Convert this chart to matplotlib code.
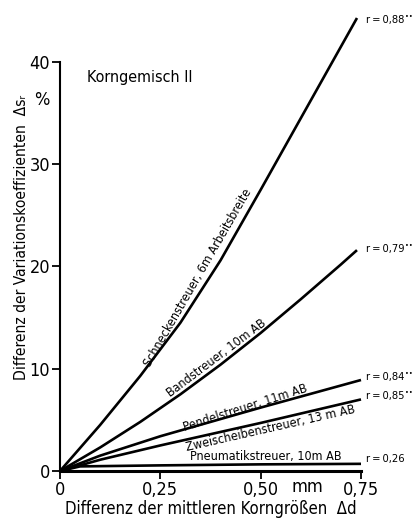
import matplotlib
matplotlib.use("Agg")
import matplotlib.pyplot as plt

# Korngemisch II - Differenz der Variationskoeffizienten ueber Differenz der Korngroessen
schnecken_d = [0, 0.10, 0.20, 0.30, 0.40, 0.50, 0.60, 0.74]
schnecken_s = [0, 4.5, 9.3, 14.5, 20.6, 27.5, 34.5, 44.3]

band_d = [0, 0.10, 0.20, 0.30, 0.40, 0.50, 0.60, 0.70, 0.74]
band_s = [0, 2.3, 4.8, 7.5, 10.4, 13.5, 16.8, 20.2, 21.6]

pendel_d = [0, 0.10, 0.25, 0.50, 0.75]
pendel_s = [0, 1.5, 3.4, 6.2, 8.9]

zweisch_d = [0, 0.10, 0.25, 0.50, 0.75]
zweisch_s = [0, 1.1, 2.5, 4.7, 7.0]

pneu_d = [0, 0.05, 0.25, 0.50, 0.75]
pneu_s = [0, 0.45, 0.55, 0.65, 0.7]

r_labels = ["r\u2009=\u20090,88", "r\u2009=\u20090,79", "r\u2009=\u20090,84",
            "r\u2009=\u20090,85", "r\u2009=\u20090,26"]
r_signif = ["••", "••", "••", "••", ""]

xticks = [0, 0.25, 0.50, 0.75]
xtick_labels = ["0", "0,25", "0,50", "0,75"]
yticks = [0, 10, 20, 30, 40]

plt.rcParams['font.family'] = ['DejaVu Sans']
plt.rcParams['font.stretch'] = 'condensed'

fig = plt.figure(figsize=(4.14, 5.18), dpi=100)
ax = fig.add_axes([60 / 414, 47 / 518, 301 / 414, 453 / 518])

lw = 1.9
for d, s in [(schnecken_d, schnecken_s), (band_d, band_s), (pendel_d, pendel_s),
             (zweisch_d, zweisch_s), (pneu_d, pneu_s)]:
    ax.plot(d, s, color='black', lw=lw, clip_on=False, solid_capstyle='butt',
            solid_joinstyle='round')

ax.set_xlim(0, 0.75)
ax.set_ylim(0, 44.3)
for side in ['top', 'right']:
    ax.spines[side].set_visible(False)
ax.spines['left'].set_bounds(0, 40)
ax.spines['left'].set_linewidth(1.5)
ax.spines['bottom'].set_linewidth(2.2)

ax.set_xticks(xticks)
ax.set_xticklabels(xtick_labels)
ax.set_yticks(yticks)
ax.tick_params(axis='both', direction='out', length=6, width=1.3, labelsize=13, pad=1)

# "mm" unit between the tick labels
ax.text(0.6175, -0.68, "mm", fontsize=13, ha='center', va='top', clip_on=False)
ax.text(-0.045, 36.3, "%", fontsize=13, ha='center', va='center')
ax.text(0.0675, 38.5, "Korngemisch II", fontsize=11.5, ha='left', va='center')

# labels along the curves
lab_size = 9
ax.text(0.3425, 18.9, "Schneckenstreuer, 6m Arbeitsbreite", fontsize=lab_size,
        rotation=60, ha='center', va='center', rotation_mode='anchor')
ax.text(0.39, 11.0, "Bandstreuer, 10m AB", fontsize=lab_size,
        rotation=37, ha='center', va='center', rotation_mode='anchor')
ax.text(0.4625, 6.2, "Pendelstreuer, 11m AB", fontsize=lab_size,
        rotation=17.8, ha='center', va='center', rotation_mode='anchor')
ax.text(0.525, 4.2, "Zweischeibenstreuer, 13 m AB", fontsize=lab_size,
        rotation=12.8, ha='center', va='center', rotation_mode='anchor')
ax.text(0.5125, 1.37, "Pneumatikstreuer, 10m AB", fontsize=lab_size,
        ha='center', va='center')

# correlation coefficients right of the lines
r_pos = [44.1, 21.7, 9.2, 7.3, 1.2]
for lab, sig, yv in zip(r_labels, r_signif, r_pos):
    t = ax.text(0.7625, yv, lab, fontsize=8, ha='left', va='center', clip_on=False)
    if sig:
        ax.annotate(sig, xy=(1.0, 0.8), xycoords=t, fontsize=5,
                    ha='left', va='center', xytext=(0.5, 0), textcoords='offset points')

ax.set_xlabel("Differenz der mittleren Korngrößen  Δd", fontsize=12, labelpad=1)
fig.text(22 / 414, 1 - 237 / 518, "Differenz der Variationskoeffizienten  Δsᵣ",
         rotation=90, fontsize=11.2, ha='center', va='center')

fig.savefig("out.png", dpi=100)
